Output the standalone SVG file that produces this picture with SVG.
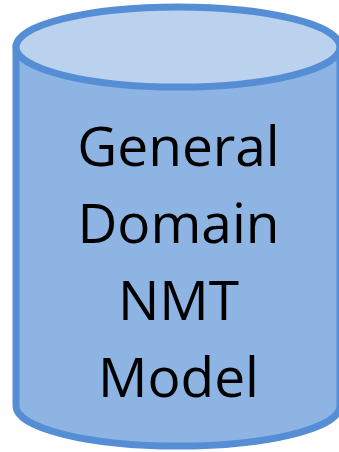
<svg xmlns="http://www.w3.org/2000/svg" width="339" height="452" viewBox="0 0 339 452">
  <style>
    .shape { stroke: #558ED5; stroke-width: 7; }
    .body { fill: #8EB4E3; }
    .lid { fill: #BBD2EE; }
    .label { font-family: "Open Sans", "Liberation Sans", sans-serif; font-size: 55px; fill: #000000; text-anchor: middle; }
  </style>
  <rect width="339" height="452" fill="#FFFFFF"/>
  <g id="model-cylinder">
    <!-- cylinder body: sides and lower rim -->
    <path class="shape body" d="M16,47 V406 A162,40 0 0 0 340,406 V47 Z"/>
    <!-- cylinder top face -->
    <ellipse class="shape lid" cx="178" cy="47" rx="162" ry="40"/>
    <text class="label" x="178.5" y="166">General</text>
    <text class="label" x="178.5" y="243">Domain</text>
    <text class="label" x="178.5" y="320">NMT</text>
    <text class="label" x="178.5" y="397">Model</text>
  </g>
</svg>
